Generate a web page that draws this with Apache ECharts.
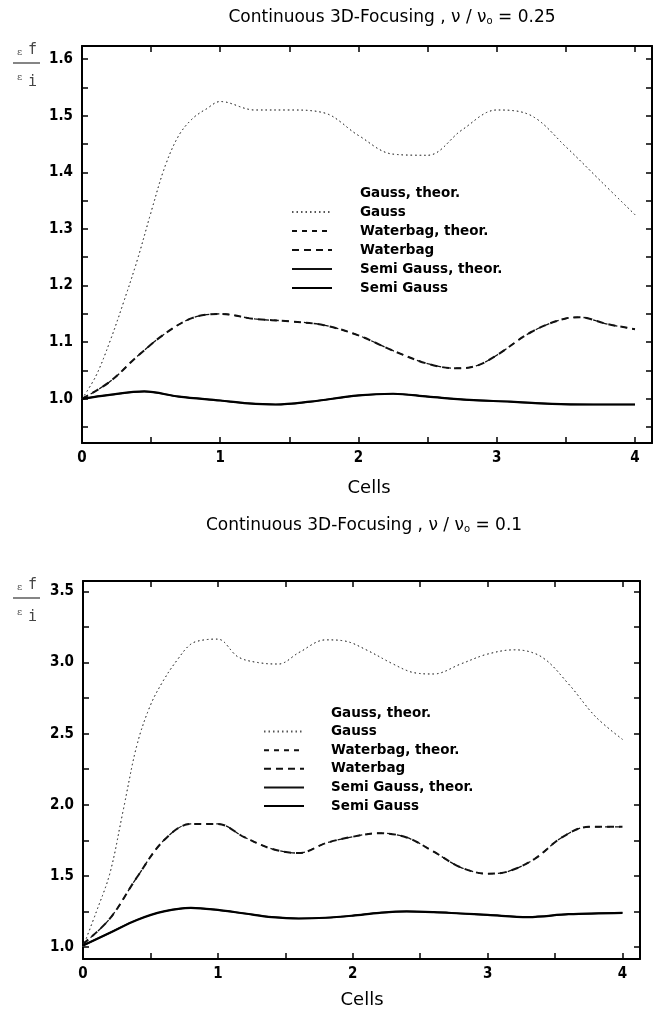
<!DOCTYPE html>
<html>
<head>
<meta charset="utf-8">
<script src="https://cdn.jsdelivr.net/npm/echarts@6/dist/echarts.min.js"></script>
<style>
html,body{margin:0;padding:0;background:#fff;}
#chart{width:655px;height:1013px;}
</style>
</head>
<body>
<div id="chart"></div>
<script>
// ---------- data: top chart (nu/nu0 = 0.25) ----------
const topGaussX = [0, 0.1, 0.2, 0.3, 0.4, 0.5, 0.6, 0.7, 0.8, 0.9, 1.0, 1.25, 1.5, 1.75, 2.0, 2.25, 2.5, 2.75, 3.0, 3.25, 3.5, 3.75, 4.0];
const topGaussY = [1.0, 1.04, 1.1, 1.17, 1.245, 1.33, 1.41, 1.465, 1.495, 1.512, 1.525, 1.51, 1.51, 1.505, 1.465, 1.432, 1.43, 1.475, 1.51, 1.50, 1.445, 1.385, 1.325];
const topGaussTheorY = [1.0, 1.04, 1.1, 1.17, 1.245, 1.33, 1.41, 1.465, 1.495, 1.512, 1.525, 1.51, 1.51, 1.505, 1.465, 1.432, 1.43, 1.475, 1.51, 1.50, 1.445, 1.385, 1.325];
const topWaterX = [0, 0.2, 0.4, 0.6, 0.8, 1.0, 1.25, 1.5, 1.75, 2.0, 2.25, 2.5, 2.7, 2.85, 3.0, 3.25, 3.5, 3.6, 3.8, 4.0];
const topWaterY = [1.0, 1.03, 1.075, 1.115, 1.143, 1.15, 1.141, 1.137, 1.13, 1.112, 1.085, 1.062, 1.054, 1.058, 1.077, 1.118, 1.142, 1.144, 1.132, 1.123];
const topWaterTheorY = [1.0, 1.03, 1.075, 1.115, 1.143, 1.15, 1.141, 1.137, 1.13, 1.112, 1.085, 1.062, 1.054, 1.058, 1.077, 1.118, 1.142, 1.144, 1.132, 1.123];
const topSemiX = [0, 0.2, 0.45, 0.7, 1.0, 1.2, 1.4, 1.65, 2.0, 2.25, 2.5, 2.8, 3.1, 3.4, 3.7, 4.0];
const topSemiY = [1.0, 1.007, 1.013, 1.004, 0.997, 0.992, 0.990, 0.995, 1.006, 1.009, 1.004, 0.998, 0.995, 0.991, 0.990, 0.990];
const topSemiTheorY = [1.0, 1.007, 1.013, 1.004, 0.997, 0.992, 0.990, 0.995, 1.006, 1.009, 1.004, 0.998, 0.995, 0.991, 0.990, 0.990];

// ---------- data: bottom chart (nu/nu0 = 0.1) ----------
const botGaussX = [0, 0.1, 0.2, 0.3, 0.4, 0.5, 0.6, 0.7, 0.8, 0.9, 1.0, 1.15, 1.3, 1.45, 1.6, 1.8, 1.95, 2.1, 2.3, 2.45, 2.6, 2.8, 3.0, 3.2, 3.4, 3.6, 3.8, 4.0];
const botGaussY = [1.0, 1.25, 1.52, 1.97, 2.42, 2.7, 2.88, 3.02, 3.13, 3.16, 3.165, 3.04, 3.0, 2.99, 3.07, 3.16, 3.15, 3.09, 2.99, 2.93, 2.92, 2.99, 3.06, 3.09, 3.04, 2.85, 2.62, 2.46];
const botGaussTheorY = [1.0, 1.25, 1.52, 1.97, 2.42, 2.7, 2.88, 3.02, 3.13, 3.16, 3.165, 3.04, 3.0, 2.99, 3.07, 3.16, 3.15, 3.09, 2.99, 2.93, 2.92, 2.99, 3.06, 3.09, 3.04, 2.85, 2.62, 2.46];
const botWaterX = [0, 0.2, 0.4, 0.6, 0.8, 1.0, 1.2, 1.4, 1.6, 1.8, 2.0, 2.2, 2.4, 2.6, 2.8, 3.0, 3.15, 3.35, 3.55, 3.75, 4.0];
const botWaterY = [1.02, 1.2, 1.49, 1.75, 1.865, 1.865, 1.77, 1.69, 1.66, 1.73, 1.775, 1.80, 1.77, 1.67, 1.56, 1.515, 1.53, 1.62, 1.77, 1.845, 1.845];
const botWaterTheorY = [1.02, 1.2, 1.49, 1.75, 1.865, 1.865, 1.77, 1.69, 1.66, 1.73, 1.775, 1.80, 1.77, 1.67, 1.56, 1.515, 1.53, 1.62, 1.77, 1.845, 1.845];
const botSemiX = [0, 0.2, 0.4, 0.6, 0.8, 1.0, 1.2, 1.4, 1.6, 1.8, 2.0, 2.2, 2.4, 2.6, 2.8, 3.0, 3.3, 3.6, 4.0];
const botSemiY = [1.01, 1.1, 1.19, 1.25, 1.275, 1.26, 1.235, 1.21, 1.2, 1.205, 1.22, 1.24, 1.25, 1.245, 1.235, 1.225, 1.21, 1.23, 1.24];
const botSemiTheorY = [1.01, 1.1, 1.19, 1.25, 1.275, 1.26, 1.235, 1.21, 1.2, 1.205, 1.22, 1.24, 1.25, 1.245, 1.235, 1.225, 1.21, 1.23, 1.24];

// ---------- ticks ----------
const xTickValues = [0, 0.5, 1, 1.5, 2, 2.5, 3, 3.5, 4];
const xTickLabels = [0, 1, 2, 3, 4];
const topYTickValues = [0.95, 1.0, 1.05, 1.1, 1.15, 1.2, 1.25, 1.3, 1.35, 1.4, 1.45, 1.5, 1.55, 1.6];
const topYTickLabels = [1.0, 1.1, 1.2, 1.3, 1.4, 1.5, 1.6];
const botYTickValues = [1.0, 1.25, 1.5, 1.75, 2.0, 2.25, 2.5, 2.75, 3.0, 3.25, 3.5];
const botYTickLabels = [1.0, 1.5, 2.0, 2.5, 3.0, 3.5];

const legendNames = ['Gauss, theor.', 'Gauss', 'Waterbag, theor.', 'Waterbag', 'Semi Gauss, theor.', 'Semi Gauss'];

const FONT = "'Liberation Sans Narrow','DejaVu Sans Condensed','DejaVu Sans',sans-serif";
const LFONT = "'DejaVu Sans',sans-serif";
const TFONT = "'DejaVu Sans',sans-serif";
const zip = (xs, ys) => xs.map((x, i) => [x, ys[i]]);

const chart = echarts.init(document.getElementById('chart'), null, {renderer: 'canvas'});

function xAxisPair(grid, max) {
  const base = {
    gridIndex: grid, type: 'value', min: 0, max: max,
    splitLine: {show: false},
    axisLine: {onZero: false, lineStyle: {color: '#000', width: 2}},
    axisTick: {inside: true, length: 6, customValues: xTickValues, lineStyle: {color: '#000', width: 1.5}}
  };
  return [
    Object.assign({}, base, {position: 'bottom',
      axisLabel: {customValues: xTickLabels, margin: 8, color: '#000', fontFamily: FONT, fontWeight: 'bold', fontSize: 15,
        formatter: v => String(Math.round(v))}}),
    Object.assign({}, base, {position: 'top', axisLabel: {show: false}})
  ];
}
function yAxisPair(grid, min, max, tv, tl) {
  const base = {
    gridIndex: grid, type: 'value', min: min, max: max,
    splitLine: {show: false},
    axisLine: {onZero: false, lineStyle: {color: '#000', width: 2}},
    axisTick: {inside: true, length: 6, customValues: tv, lineStyle: {color: '#000', width: 1.5}}
  };
  return [
    Object.assign({}, base, {position: 'left',
      axisLabel: {customValues: tl, margin: 9, color: '#000', fontFamily: FONT, fontWeight: 'bold', fontSize: 15,
        formatter: v => v.toFixed(1)}}),
    Object.assign({}, base, {position: 'right', axisLabel: {show: false}})
  ];
}

const styles = {
  'Gauss, theor.': {color: '#666', width: 1, type: [1.5, 3]},
  'Gauss': {color: '#555', width: 1, type: [1.5, 3]},
  'Waterbag, theor.': {color: '#111', width: 1.3, type: [5, 5]},
  'Waterbag': {color: '#111', width: 2, type: [7, 5]},
  'Semi Gauss, theor.': {color: '#111', width: 1.5, type: 'solid'},
  'Semi Gauss': {color: '#000', width: 2.2, type: 'solid'}
};
function mk(name, xi, yi, data) {
  return {
    name: name, type: 'line', xAxisIndex: xi, yAxisIndex: yi, data: data,
    symbol: 'none', smooth: 0.35, silent: true, animation: false,
    lineStyle: styles[name], itemStyle: {color: styles[name].color}
  };
}

const series = [
  mk('Gauss, theor.', 0, 0, zip(topGaussX, topGaussTheorY)),
  mk('Gauss', 0, 0, zip(topGaussX, topGaussY)),
  mk('Waterbag, theor.', 0, 0, zip(topWaterX, topWaterTheorY)),
  mk('Waterbag', 0, 0, zip(topWaterX, topWaterY)),
  mk('Semi Gauss, theor.', 0, 0, zip(topSemiX, topSemiTheorY)),
  mk('Semi Gauss', 0, 0, zip(topSemiX, topSemiY)),
  mk('Gauss, theor.', 2, 2, zip(botGaussX, botGaussTheorY)),
  mk('Gauss', 2, 2, zip(botGaussX, botGaussY)),
  mk('Waterbag, theor.', 2, 2, zip(botWaterX, botWaterTheorY)),
  mk('Waterbag', 2, 2, zip(botWaterX, botWaterY)),
  mk('Semi Gauss, theor.', 2, 2, zip(botSemiX, botSemiTheorY)),
  mk('Semi Gauss', 2, 2, zip(botSemiX, botSemiY))
];

function legend(left, top, gap, pad) {
  return {
    orient: 'vertical', left: left, top: top, padding: 0,
    itemWidth: 40, itemHeight: 12, itemGap: gap, selectedMode: false,
    itemStyle: {opacity: 0, color: 'rgba(0,0,0,0)', borderWidth: 0},
    textStyle: {fontFamily: LFONT, fontWeight: 'bold', fontSize: 13.5, lineHeight: 12, color: '#000', padding: [0, 0, 0, pad]},
    data: legendNames.map((n, i) => i === 0 ? {name: n, icon: 'none'} : {name: n})
  };
}

function epsFrac(x, y) {
  const sm = {fontFamily: "'DejaVu Serif',serif", fontSize: 10, fill: '#555'};
  const bg = {fontFamily: "'DejaVu Sans Mono',monospace", fontSize: 15, fill: '#444'};
  return [
    {type: 'text', left: x + 4, top: y - 16, style: Object.assign({}, sm, {text: 'ε'})},
    {type: 'text', left: x + 15, top: y - 20, style: Object.assign({}, bg, {text: 'f'})},
    {type: 'line', shape: {x1: x, y1: y, x2: x + 27, y2: y}, style: {stroke: '#333', lineWidth: 1.2}},
    {type: 'text', left: x + 4, top: y + 9, style: Object.assign({}, sm, {text: 'ε'})},
    {type: 'text', left: x + 15, top: y + 12, style: Object.assign({}, bg, {text: 'i'})}
  ];
}

function titleText(cx, cy, txt) {
  return {
    type: 'text', x: cx, y: cy,
    style: {
      text: txt, align: 'center', verticalAlign: 'middle',
      fontFamily: TFONT, fontSize: 17, fill: '#000',
      rich: {sub: {fontFamily: TFONT, fontSize: 10, verticalAlign: 'bottom', padding: [7, 0, 0, 0]}}
    }
  };
}

const option = {
  backgroundColor: '#fff',
  animation: false,
  grid: [
    {left: 82, top: 46, width: 570, height: 397},
    {left: 83, top: 581, width: 557, height: 378}
  ],
  xAxis: [...xAxisPair(0, 4.123), ...xAxisPair(1, 4.13)],
  yAxis: [...yAxisPair(0, 0.922, 1.623, topYTickValues, topYTickLabels),
          ...yAxisPair(1, 0.915, 3.574, botYTickValues, botYTickLabels)],
  legend: [legend(291, 186, 5, 23), legend(263, 706, 4.6, 22)],
  series: series,
  graphic: [
    titleText(392, 18, 'Continuous 3D-Focusing , ν / ν{sub|o} = 0.25'),
    titleText(364, 526, 'Continuous 3D-Focusing , ν / ν{sub|o} = 0.1'),
    {type: 'text', x: 369, y: 488, style: {text: 'Cells', align: 'center', verticalAlign: 'middle', fontFamily: TFONT, fontSize: 18, fill: '#000'}},
    {type: 'text', x: 362, y: 1000, style: {text: 'Cells', align: 'center', verticalAlign: 'middle', fontFamily: TFONT, fontSize: 18, fill: '#000'}},
    ...epsFrac(13, 63),
    ...epsFrac(13, 598)
  ]
};
chart.setOption(option);
</script>
</body>
</html>
